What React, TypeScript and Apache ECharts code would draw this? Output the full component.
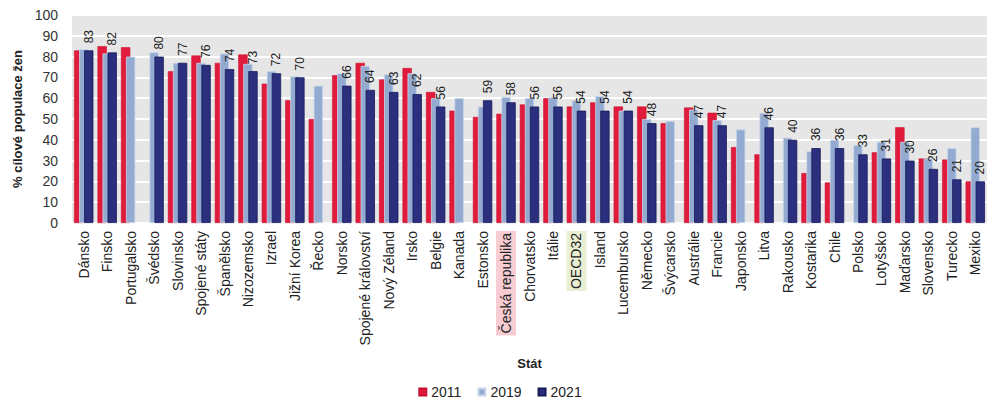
// Podil cilove populace zen (2011, 2019, 2021) podle statu: sloupcovy graf se tremi
// prekryvajicimi se sloupci na stat, popisky hodnot jen u roku 2021.
import { useEffect, useRef } from 'react'
import * as echarts from 'echarts'

const STATY = [
  'Dánsko', 'Finsko', 'Portugalsko', 'Švédsko', 'Slovinsko', 'Spojené státy', 'Španělsko',
  'Nizozemsko', 'Izrael', 'Jižní Korea', 'Řecko', 'Norsko', 'Spojené království', 'Nový Zéland',
  'Irsko', 'Belgie', 'Kanada', 'Estonsko', 'Česká republika', 'Chorvatsko', 'Itálie', 'OECD32',
  'Island', 'Lucembursko', 'Německo', 'Švýcarsko', 'Austrálie', 'Francie', 'Japonsko', 'Litva',
  'Rakousko', 'Kostarika', 'Chile', 'Polsko', 'Lotyšsko', 'Maďarsko', 'Slovensko', 'Turecko', 'Mexiko',
]

const ROK_2011 = [
  83, 85, 84.5, null, 73, 80.5, 77, 81, 67, 59, 50, 71, 77, 69, 74.5, 63, 54, 51, 52.5, 57, 60, 56,
  58, 56, 56, 48, 55.5, 53, 36.5, 33, null, 24, 19.5, null, 34, 46, 31, 30.5, 20,
]

const ROK_2019 = [
  83.5, 81.5, 80, 82, 77, 77, 81.5, 76.5, 73, 70.5, 66, 72, 75.5, 71.5, 72, 60, 60, 56, 60.5, 60, 60.5, 59,
  61, 54, 50, 49, 54.5, 49.5, 45, 53, 41, 34.5, 40, 37.5, 39, 39, 31, 36, 46,
]

const ROK_2021 = [
  83, 82, null, 80, 77, 76, 74, 73, 72, 70, null, 66, 64, 63, 62, 56, null, 59, 58, 56, 56, 54,
  54, 54, 48, null, 47, 47, null, 46, 40, 36, 36, 33, 31, 30, 26, 21, 20,
]

// zvyraznene popisky na ose x
const ZVYRAZNENI: Record<string, string> = {
  'Česká republika': '#f7cdd3',
  OECD32: '#e9efd3',
}

const FONT = 'Liberation Sans, Arial, sans-serif'

export default function App() {
  const ref = useRef<HTMLDivElement>(null)

  useEffect(() => {
    document.body.style.margin = '0'
    if (!ref.current) return
    const graf = echarts.init(ref.current, null, { renderer: 'svg' })

    const spolecne = { type: 'bar', barWidth: 9.3, barGap: '-46%' }

    graf.setOption({
      animation: false,
      textStyle: { fontFamily: FONT },
      grid: {
        left: 72, right: 13, top: 15, bottom: 190,
        show: true, backgroundColor: '#e6e6e6', borderWidth: 0,
      },
      legend: {
        top: 380,
        left: 'center',
        icon: 'rect',
        itemWidth: 7,
        itemHeight: 7,
        itemGap: 16,
        textStyle: { fontSize: 14, color: '#222', fontFamily: FONT },
      },
      xAxis: {
        type: 'category',
        data: STATY.map((s) =>
          ZVYRAZNENI[s] ? { value: s, textStyle: { backgroundColor: ZVYRAZNENI[s], padding: [3, 2] } } : s,
        ),
        name: 'Stát',
        nameLocation: 'middle',
        nameGap: 134,
        nameTextStyle: { fontWeight: 'bold', fontSize: 13, color: '#222', fontFamily: FONT },
        axisLine: { show: false },
        axisTick: { show: false },
        axisLabel: { rotate: 90, fontSize: 14, color: '#222', margin: 8, interval: 0, fontFamily: FONT },
      },
      yAxis: {
        type: 'value',
        min: 0,
        max: 100,
        interval: 10,
        name: '% cílové populace žen',
        nameLocation: 'middle',
        nameGap: 48,
        nameTextStyle: { fontWeight: 'bold', fontSize: 13, color: '#222', fontFamily: FONT },
        axisLabel: { fontSize: 14, color: '#333', margin: 14, fontFamily: FONT },
        splitLine: { lineStyle: { color: '#ffffff', width: 2 } },
      },
      series: [
        {
          ...spolecne,
          name: '2011',
          data: ROK_2011,
          itemStyle: { color: '#e11b3c', borderColor: '#c9122f', borderWidth: 0.6 },
        },
        {
          ...spolecne,
          name: '2019',
          data: ROK_2019,
          itemStyle: { color: '#93aad1', borderColor: '#c9d5ea', borderWidth: 0.8 },
        },
        {
          ...spolecne,
          name: '2021',
          data: ROK_2021,
          itemStyle: { color: '#2b2f7d', borderColor: '#171a5a', borderWidth: 0.8 },
          label: {
            show: true,
            position: 'top',
            rotate: 90,
            align: 'left',
            verticalAlign: 'middle',
            distance: 7,
            fontSize: 12,
            color: '#222',
            fontFamily: FONT,
          },
        },
      ],
    })

    return () => graf.dispose()
  }, [])

  return <div ref={ref} style={{ width: 1000, height: 413 }} />
}
